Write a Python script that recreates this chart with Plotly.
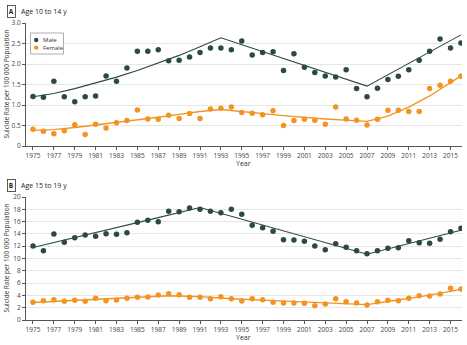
import plotly.graph_objects as go

years = list(range(1975, 2017))

# Panel A: Age 10 to 14 y
a_male = [1.21, 1.19, 1.58, 1.20, 1.08, 1.20, 1.22, 1.71, 1.58, 1.90,
          2.31, 2.31, 2.35, 2.08, 2.09, 2.17, 2.28, 2.39, 2.39, 2.35,
          2.56, 2.22, 2.28, 2.30, 1.84, 2.25, 1.92, 1.79, 1.71, 1.68,
          1.86, 1.40, 1.20, 1.41, 1.62, 1.70, 1.86, 2.09, 2.31, 2.61,
          2.39, 2.51]
a_female = [0.41, 0.36, 0.30, 0.37, 0.52, 0.28, 0.53, 0.44, 0.57, 0.62,
            0.88, 0.66, 0.65, 0.75, 0.67, 0.79, 0.67, 0.90, 0.92, 0.95,
            0.82, 0.80, 0.76, 0.86, 0.50, 0.62, 0.65, 0.63, 0.53, 0.95,
            0.66, 0.63, 0.51, 0.65, 0.87, 0.87, 0.84, 0.84, 1.40, 1.48,
            1.58, 1.70]
a_male_trend_x = [1975, 1977, 1979, 1981, 1983, 1985, 1987, 1989, 1991, 1993, 2007, 2016]
a_male_trend_y = [1.20, 1.28, 1.40, 1.54, 1.68, 1.84, 2.02, 2.21, 2.42, 2.64, 1.46, 2.71]
a_female_trend_x = [1975, 1977, 1979, 1981, 1983, 1985, 1987, 1989, 1991, 1993, 1995, 1999, 2003, 2007, 2009, 2011, 2013, 2015, 2016]
a_female_trend_y = [0.38, 0.40, 0.45, 0.51, 0.58, 0.64, 0.70, 0.77, 0.84, 0.89, 0.84, 0.74, 0.66, 0.60, 0.73, 0.95, 1.22, 1.55, 1.71]

# Panel B: Age 15 to 19 y
b_male = [12.03, 11.27, 13.98, 12.63, 13.39, 13.82, 13.60, 14.04, 13.93, 14.20,
          15.88, 16.21, 15.99, 17.67, 17.62, 18.21, 18.00, 17.67, 17.45, 18.00,
          17.18, 15.39, 15.01, 14.42, 13.06, 13.01, 12.79, 12.03, 11.44, 12.41,
          11.82, 11.27, 10.79, 11.27, 11.65, 11.76, 12.90, 12.57, 12.47, 13.12,
          14.36, 14.90]
b_female = [2.87, 3.14, 3.31, 3.04, 3.20, 3.04, 3.52, 3.14, 3.25, 3.52,
            3.69, 3.74, 4.07, 4.28, 4.12, 3.69, 3.69, 3.47, 3.79, 3.47,
            3.09, 3.47, 3.31, 2.87, 2.76, 2.76, 2.71, 2.33, 2.60, 3.47,
            2.98, 2.76, 2.44, 2.98, 3.20, 3.14, 3.52, 3.96, 3.90, 4.23,
            5.15, 5.04]
b_male_trend_x = [1975, 1979, 1983, 1987, 1991, 2007, 2016]
b_male_trend_y = [11.80, 13.40, 14.95, 16.65, 18.30, 10.70, 14.60]
b_female_trend_x = [1975, 1978, 1981, 1985, 1988, 1991, 1994, 1998, 2002, 2007, 2009, 2011, 2013, 2015, 2016]
b_female_trend_y = [2.85, 3.10, 3.40, 3.70, 3.95, 3.80, 3.45, 3.15, 2.85, 2.50, 3.00, 3.50, 4.05, 4.65, 5.00]

x_tick_vals = list(range(1975, 2017, 2))
a_ticks = [0, 0.5, 1.0, 1.5, 2.0, 2.5, 3.0]
a_tick_text = ["0", "0.5", "1.0", "1.5", "2.0", "2.5", "3.0"]
b_ticks = list(range(0, 21, 2))
legend_names = ["Male", "Female"]

MALE = "#2b4a45"
FEMALE = "#f39422"
FONT = "Open Sans"
W, H = 467, 345

fig = go.Figure()

def add_panel(xa, ya, male, female, mtx, mty, ftx, fty):
    fig.add_trace(go.Scatter(x=mtx, y=mty, mode="lines", line=dict(color=MALE, width=1.1),
                             xaxis=xa, yaxis=ya, showlegend=False, hoverinfo="skip"))
    fig.add_trace(go.Scatter(x=ftx, y=fty, mode="lines", line=dict(color=FEMALE, width=1.4),
                             xaxis=xa, yaxis=ya, showlegend=False, hoverinfo="skip"))
    fig.add_trace(go.Scatter(x=years, y=male, mode="markers", name="Male",
                             marker=dict(color=MALE, size=5.5), xaxis=xa, yaxis=ya,
                             showlegend=False))
    fig.add_trace(go.Scatter(x=years, y=female, mode="markers", name="Female",
                             marker=dict(color=FEMALE, size=5.5), xaxis=xa, yaxis=ya,
                             showlegend=False))

add_panel("x", "y", a_male, a_female, a_male_trend_x, a_male_trend_y,
          a_female_trend_x, a_female_trend_y)
add_panel("x2", "y2", b_male, b_female, b_male_trend_x, b_male_trend_y,
          b_female_trend_x, b_female_trend_y)

def px_x(p):
    return p / W

def px_y(p):
    return 1 - p / H

xdom = [px_x(26), px_x(462)]
xr = [1974.33, 2016.1]
common_x = dict(range=xr, tickvals=x_tick_vals, ticks="outside", ticklen=3, tickcolor="#555",
                showline=True, linecolor="#555", linewidth=1, showgrid=False, zeroline=False,
                tickfont=dict(size=6.5, color="#444", family=FONT), automargin=False, domain=xdom)
common_y = dict(ticks="outside", ticklen=3, tickcolor="#555", showline=True, linecolor="#555",
                linewidth=1, gridcolor="#e6e6e6", gridwidth=1, zeroline=False,
                tickfont=dict(size=6.5, color="#444", family=FONT), automargin=False)

fig.update_layout(
    width=W, height=H,
    margin=dict(l=0, r=0, t=0, b=0),
    paper_bgcolor="white", plot_bgcolor="white",
    xaxis=dict(**common_x, anchor="y"),
    yaxis=dict(**common_y, range=[0, 3.0], tickvals=a_ticks, ticktext=a_tick_text,
               domain=[px_y(146), px_y(23)], anchor="x"),
    xaxis2=dict(**common_x, anchor="y2"),
    yaxis2=dict(**common_y, range=[0, 20], tickvals=b_ticks,
                domain=[px_y(320), px_y(197)], anchor="x2"),
    showlegend=False,
)

ann = []
shapes = []
for lab, title, ytop in [("A", "Age 10 to 14 y", 11.5), ("B", "Age 15 to 19 y", 185)]:
    ann.append(dict(x=px_x(11.5), y=px_y(ytop), xref="paper", yref="paper", text="<b>" + lab + "</b>",
                    showarrow=False, font=dict(size=6.5, color="#222", family=FONT),
                    bordercolor="#333", borderwidth=0.8, borderpad=1, xanchor="center", yanchor="middle"))
    ann.append(dict(x=px_x(19), y=px_y(ytop), xref="paper", yref="paper", text=title,
                    showarrow=False, font=dict(size=7, color="#222", family=FONT),
                    xanchor="left", yanchor="middle"))
for ymid, yl in [((23 + 146) / 2, 163), ((197 + 320) / 2, 337)]:
    ann.append(dict(x=px_x(6), y=px_y(ymid), xref="paper", yref="paper",
                    text="Suicide Rate per 100 000 Population", textangle=-90, showarrow=False,
                    font=dict(size=6.5, color="#333", family=FONT), xanchor="center", yanchor="middle"))
    ann.append(dict(x=px_x(244), y=px_y(yl), xref="paper", yref="paper", text="Year",
                    showarrow=False, font=dict(size=7, color="#333", family=FONT),
                    xanchor="center", yanchor="middle"))

# custom compact legend
shapes.append(dict(type="rect", xref="paper", yref="paper", x0=px_x(30.5), x1=px_x(63.5),
                   y0=px_y(54), y1=px_y(33), line=dict(color="#999", width=0.8), fillcolor="white"))
ys = [40, 47.6]
for cy, col in zip(ys, [MALE, FEMALE]):
    shapes.append(dict(type="circle", xref="paper", yref="paper", x0=px_x(34), x1=px_x(38.4),
                       y0=px_y(cy + 2.2), y1=px_y(cy - 2.2), line=dict(width=0), fillcolor=col))
ann.append(dict(x=px_x(42), y=px_y(sum(ys) / 2), xref="paper", yref="paper",
                text="<br>".join(legend_names), align="left",
                showarrow=False, font=dict(size=6, color="#333", family=FONT),
                xanchor="left", yanchor="middle", borderpad=0))
fig.update_layout(annotations=ann, shapes=shapes)

fig.write_html("out.html")
